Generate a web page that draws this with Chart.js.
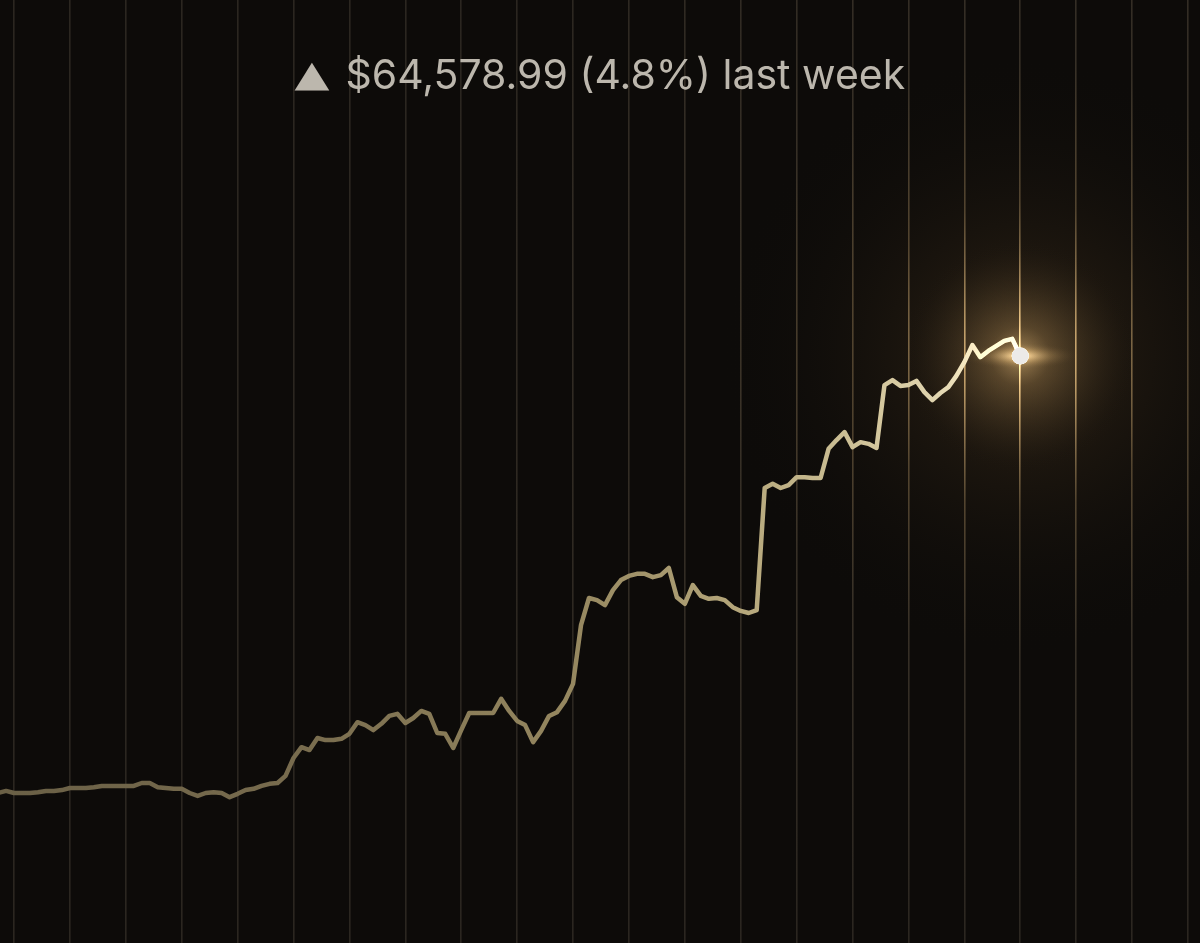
<!DOCTYPE html>
<html>
<head>
<meta charset="utf-8">
<script src="https://cdn.jsdelivr.net/npm/chart.js@4.4.1/dist/chart.umd.min.js"></script>
<style>
  html, body { margin: 0; padding: 0; background: #0d0b09; }
  #wrap { position: relative; width: 1200px; height: 943px; background: #0d0b09; }
  #title {
    position: absolute; left: 0; top: 47px; width: 1200px; text-align: center;
    font-family: Inter, "Open Sans", "DejaVu Sans", sans-serif; font-size: 41px; font-weight: 400;
    color: #bcb7ad; white-space: nowrap; line-height: 54px; z-index: 2;
  }
  #title .tri {
    display: inline-block; font-family: "DejaVu Sans", sans-serif; font-size: 36px;
    transform: translateY(-3px) scaleX(1.26); margin-left: 3px; margin-right: 20px; vertical-align: baseline;
  }
</style>
</head>
<body>
<div id="wrap">
  <canvas id="c"></canvas>
  <div id="title"><span class="tri">▲</span>$64,578.99 (4.8%) last week</div>
</div>
<script>
// ---- data (values in thousands of dollars, one point per day) ----
const startDay = -2;
const portfolioValues = [
  360, 365,
  360, 360, 360, 362, 365, 365, 367,
  372, 372, 372, 374, 377, 377, 377,
  377, 377, 384, 384, 374, 372, 370,
  370, 360, 353, 360, 362, 360, 350,
  358, 367, 370, 377, 382, 384, 401,
  444, 470, 463, 492, 487, 487, 490,
  502, 530, 523, 511, 526, 545, 550,
  528, 540, 557, 550, 504, 502, 468,
  511, 552, 552, 552, 552, 586, 557,
  533, 523, 482, 509, 545, 554, 581,
  622, 763, 828, 823, 811, 847, 871,
  881, 886, 886, 878, 883, 900, 830,
  814, 859, 833, 826, 828, 823, 806,
  797, 792, 799, 1092, 1102, 1092, 1099,
  1118, 1118, 1116, 1116, 1186, 1207, 1226,
  1190, 1202, 1198, 1188, 1339, 1351, 1337,
  1339, 1349, 1322, 1303, 1320, 1334, 1361,
  1394, 1435, 1406, 1421, 1433, 1445, 1450,
  1409
];
const weekTicks = [0, 7, 14, 21, 28, 35, 42, 49, 56, 63, 70, 77, 84, 91, 98, 105, 112, 119, 126, 133, 140, 147];
const xRange = [-1.753, 148.51];
const yRange = [0, 2263.2];

const points = portfolioValues.map((v, i) => ({ x: startDay + i, y: v }));
const lastIndex = points.length - 1;

function lastPixel(chart) {
  const p = points[lastIndex];
  return { x: chart.scales.x.getPixelForValue(p.x), y: chart.scales.y.getPixelForValue(p.y) };
}

function gridGradient(chart) {
  const c = lastPixel(chart);
  const g = chart.ctx.createRadialGradient(c.x, c.y, 0, c.x, c.y, 600);
  g.addColorStop(0, 'rgba(240,205,145,1)');
  g.addColorStop(0.1, 'rgba(200,165,110,0.85)');
  g.addColorStop(0.26, 'rgba(115,95,65,0.65)');
  g.addColorStop(0.5, 'rgba(64,56,45,0.8)');
  g.addColorStop(1, 'rgba(48,43,36,0.85)');
  return g;
}

function lineGradient(chart) {
  const { ctx, chartArea } = chart;
  if (!chartArea) return '#8c7f5e';
  const g = ctx.createLinearGradient(chartArea.left, 0, chartArea.right, 0);
  g.addColorStop(0, 'rgb(106,96,70)');
  g.addColorStop(0.25, 'rgb(120,108,78)');
  g.addColorStop(0.48, 'rgb(150,136,96)');
  g.addColorStop(0.63, 'rgb(184,170,126)');
  g.addColorStop(0.74, 'rgb(214,201,160)');
  g.addColorStop(0.85, 'rgb(236,228,200)');
  g.addColorStop(1, 'rgb(242,236,218)');
  return g;
}

const bgPlugin = {
  id: 'bg',
  beforeDraw(chart) {
    const { ctx, width, height } = chart;
    ctx.save();
    ctx.fillStyle = '#0d0b09';
    ctx.fillRect(0, 0, width, height);
    const c = lastPixel(chart);
    const g = ctx.createRadialGradient(c.x, c.y, 0, c.x, c.y, 300);
    g.addColorStop(0, 'rgba(68,52,30,0.9)');
    g.addColorStop(0.35, 'rgba(38,29,18,0.6)');
    g.addColorStop(1, 'rgba(13,11,9,0)');
    ctx.fillStyle = g;
    ctx.fillRect(0, 0, width, height);
    ctx.restore();
  }
};

const glowPlugin = {
  id: 'glow',
  afterDatasetsDraw(chart) {
    const { ctx } = chart;
    const c = lastPixel(chart);
    ctx.save();
    ctx.globalCompositeOperation = 'lighter';
    let g = ctx.createRadialGradient(c.x, c.y, 0, c.x, c.y, 120);
    g.addColorStop(0, 'rgba(190,160,110,0.55)');
    g.addColorStop(0.25, 'rgba(120,97,62,0.3)');
    g.addColorStop(1, 'rgba(0,0,0,0)');
    ctx.fillStyle = g;
    ctx.fillRect(c.x - 130, c.y - 130, 260, 260);
    // horizontal flare
    ctx.translate(c.x, c.y);
    ctx.scale(1, 0.22);
    g = ctx.createRadialGradient(0, 0, 0, 0, 0, 60);
    g.addColorStop(0, 'rgba(255,232,185,0.5)');
    g.addColorStop(0.5, 'rgba(170,140,90,0.2)');
    g.addColorStop(1, 'rgba(0,0,0,0)');
    ctx.fillStyle = g;
    ctx.beginPath();
    ctx.arc(0, 0, 60, 0, Math.PI * 2);
    ctx.fill();
    ctx.restore();
    // redraw point on top
    ctx.save();
    const meta = chart.getDatasetMeta(0);
    meta.data[lastIndex].draw(ctx);
    ctx.restore();
  }
};

new Chart(document.getElementById('c'), {
  type: 'line',
  data: {
    datasets: [{
      data: points,
      borderColor: (ctx) => lineGradient(ctx.chart),
      borderWidth: 4.5,
      borderJoinStyle: 'round',
      borderCapStyle: 'round',
      tension: 0,
      fill: false,
      pointRadius: (ctx) => ctx.dataIndex === lastIndex ? 8.5 : 0,
      pointBackgroundColor: '#eceae8',
      pointBorderWidth: 0,
      pointHoverRadius: 0
    }]
  },
  options: {
    responsive: true,
    maintainAspectRatio: false,
    animation: false,
    layout: { padding: 0, autoPadding: false },
    plugins: { legend: { display: false }, tooltip: { enabled: false }, title: { display: false } },
    events: [],
    scales: {
      x: {
        type: 'linear',
        min: xRange[0], max: xRange[1],
        afterBuildTicks: (scale) => { scale.ticks = weekTicks.map(v => ({ value: v })); },
        ticks: { display: false },
        border: { display: false },
        grid: { display: true, drawTicks: false, lineWidth: 1.6, color: (ctx) => gridGradient(ctx.chart) }
      },
      y: {
        display: false,
        min: yRange[0], max: yRange[1]
      }
    }
  },
  plugins: [bgPlugin, glowPlugin]
});
</script>
</body>
</html>
